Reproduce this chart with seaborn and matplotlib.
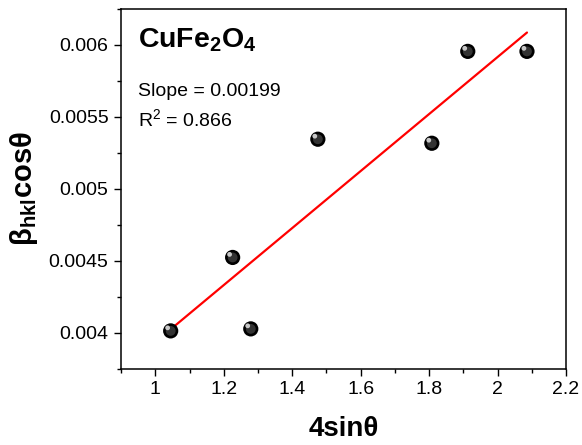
import numpy as np
import pandas as pd
import matplotlib
matplotlib.use("Agg")
import matplotlib.pyplot as plt
import matplotlib.transforms as mtransforms
from matplotlib.ticker import MultipleLocator, FixedLocator
import seaborn as sns

# data
x_vals = [1.045, 1.226, 1.279, 1.475, 1.808, 1.913, 2.086]
y_vals = [0.004014, 0.004524, 0.004028, 0.005345, 0.005317, 0.005955, 0.005955]
x_ticks = [1.0, 1.2, 1.4, 1.6, 1.8, 2.0, 2.2]
x_tick_labels = ["1", "1.2", "1.4", "1.6", "1.8", "2", "2.2"]
y_ticks = [0.004, 0.0045, 0.005, 0.0055, 0.006]
y_tick_labels = ["0.004", "0.0045", "0.005", "0.0055", "0.006"]
sample = r"$\mathbf{CuFe_2O_4}$"
slope_text = "Slope = 0.00199"
r2_text = "R$^2$ = 0.866"

sns.set_theme(style="ticks")
plt.rcParams['font.family'] = ['Liberation Sans', 'DejaVu Sans']
plt.rcParams['mathtext.fontset'] = 'custom'
plt.rcParams['mathtext.rm'] = 'Liberation Sans'
plt.rcParams['mathtext.it'] = 'Liberation Sans:italic'
plt.rcParams['mathtext.bf'] = 'Liberation Sans:bold'
plt.rcParams['text.color'] = 'black'
plt.rcParams['axes.labelcolor'] = 'black'

df = pd.DataFrame({"x": x_vals, "y": y_vals})

fig = plt.figure(figsize=(5.82, 4.45), dpi=100)
ax = fig.add_axes([0.208, 0.171, 0.7645, 0.809])

# linear fit
coef = np.polyfit(df["x"], df["y"], 1)
xf = np.array([df["x"].min(), df["x"].max()])
fit = pd.DataFrame({"x": xf, "y": np.polyval(coef, xf)})
sns.lineplot(data=fit, x="x", y="y", color="red", linewidth=1.6, ax=ax, zorder=2)

# sphere-like markers
sns.scatterplot(data=df, x="x", y="y", s=120, color="black", edgecolor="none", ax=ax, zorder=3)
sns.scatterplot(data=df, x="x", y="y", s=50, color="#333333", edgecolor="none", ax=ax, zorder=4)
hl = ax.scatter(df["x"], df["y"], s=12, color="#c8c8c8", edgecolor="none", zorder=5)
hl.set_offset_transform(ax.transData + mtransforms.ScaledTranslation(-2.2/72, 2.2/72, fig.dpi_scale_trans))

ax.set_xlim(0.9, 2.2)
ax.set_ylim(0.00375, 0.00625)
ax.xaxis.set_major_locator(FixedLocator(x_ticks))
ax.set_xticklabels(x_tick_labels)
ax.xaxis.set_minor_locator(MultipleLocator(0.1))
ax.yaxis.set_major_locator(FixedLocator(y_ticks))
ax.set_yticklabels(y_tick_labels)
ax.yaxis.set_minor_locator(MultipleLocator(0.00025))

ax.tick_params(axis='both', which='major', direction='out', length=5, width=1, labelsize=14, color='black', labelcolor='black', pad=4)
ax.tick_params(axis='both', which='minor', direction='out', length=3, width=1, color='black')
ax.tick_params(top=False, right=False, which='both')
for s in ax.spines.values():
    s.set_visible(True)
    s.set_linewidth(1.1)
    s.set_color('black')

ax.set_xlabel("4sinθ", fontsize=20, fontweight='bold', labelpad=13)
ax.set_ylabel(r"$\mathbf{β_{hkl}cosθ}$", fontsize=21, labelpad=6)

ax.text(0.038, 0.95, sample, transform=ax.transAxes, fontsize=20.5, va='top', ha='left')
ax.text(0.038, 0.795, slope_text, transform=ax.transAxes, fontsize=14, va='top', ha='left')
ax.text(0.038, 0.725, r2_text, transform=ax.transAxes, fontsize=14, va='top', ha='left')

fig.savefig("out.png", dpi=100)
